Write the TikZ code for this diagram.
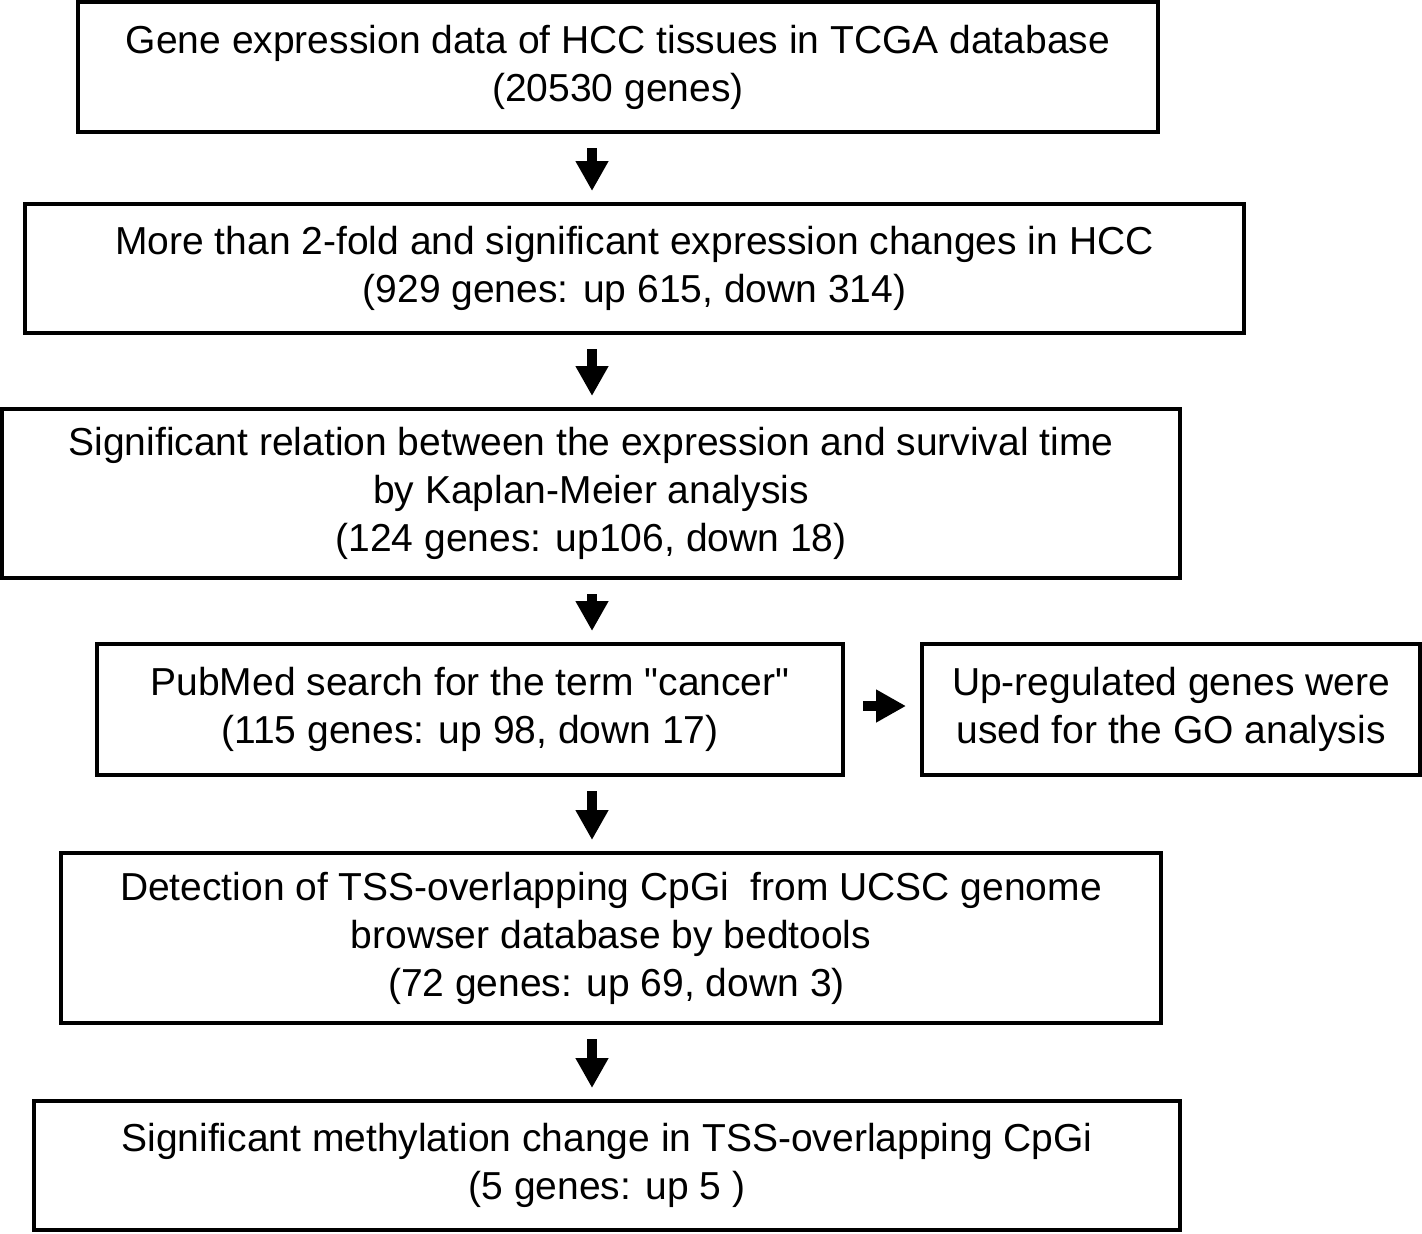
\documentclass[tikz,border=0pt]{standalone}
\usepackage{fontspec}
\setmainfont{Liberation Sans}[Ligatures=TeXOff]
\usetikzlibrary{arrows.meta}
\begin{document}
\begin{tikzpicture}[x=0.5pt,y=-0.5pt,
  box/.style={draw=black,line width=2pt,rectangle,align=center,inner sep=0pt,
    font=\fontsize{19.5}{24}\selectfont},
  flow/.style={line width=5pt,-{Triangle[width=15.5pt,length=15pt]},shorten <=7pt,shorten >=5.5pt}]
\useasboundingbox (0,0) rectangle (1422,1233);
\node[box,minimum width=540pt,minimum height=65pt] (b1) at (618,67)
  {Gene expression data of HCC tissues in TCGA database\\(20530 genes)};
\node[box,minimum width=609.5pt,minimum height=64.5pt] (b2) at (634.5,268.5)
  {More than 2-fold and significant expression changes in HCC\\(929 genes: up 615, down 314)};
\node[box,minimum width=589pt,minimum height=84.5pt] (b3) at (591,493.5)
  {Significant relation between the expression and survival time\\by Kaplan-Meier analysis\\(124 genes: up106, down 18)};
\node[box,minimum width=373pt,minimum height=65.5pt] (b4) at (470,709.5)
  {PubMed search for the term "cancer"\\(115 genes: up 98, down 17)};
\node[box,minimum width=249pt,minimum height=65.5pt] (b4b) at (1171,709.5)
  {Up-regulated genes were\\used for the GO analysis};
\node[box,minimum width=550pt,minimum height=85pt] (b5) at (611,938)
  {Detection of TSS-overlapping CpGi\ \ from UCSC genome\\browser database by bedtools\\\ (72 genes: up 69, down 3)};
\node[box,minimum width=573pt,minimum height=64.5pt] (b6) at (607,1165.5)
  {Significant methylation change in TSS-overlapping CpGi\\(5 genes: up 5 )};
\coordinate (ax) at (592,0);
\draw[flow] (b1.south -| ax) -- (b2.north -| ax);
\draw[flow] (b2.south -| ax) -- (b3.north -| ax);
\draw[flow] (b3.south -| ax) -- (b4.north -| ax);
\draw[flow] (b4.south -| ax) -- (b5.north -| ax);
\draw[flow] (b5.south -| ax) -- (b6.north -| ax);
\draw[flow,shorten <=9pt,shorten >=7pt] (b4.east |- 0,706) -- (b4b.west |- 0,706);
\end{tikzpicture}
\end{document}
